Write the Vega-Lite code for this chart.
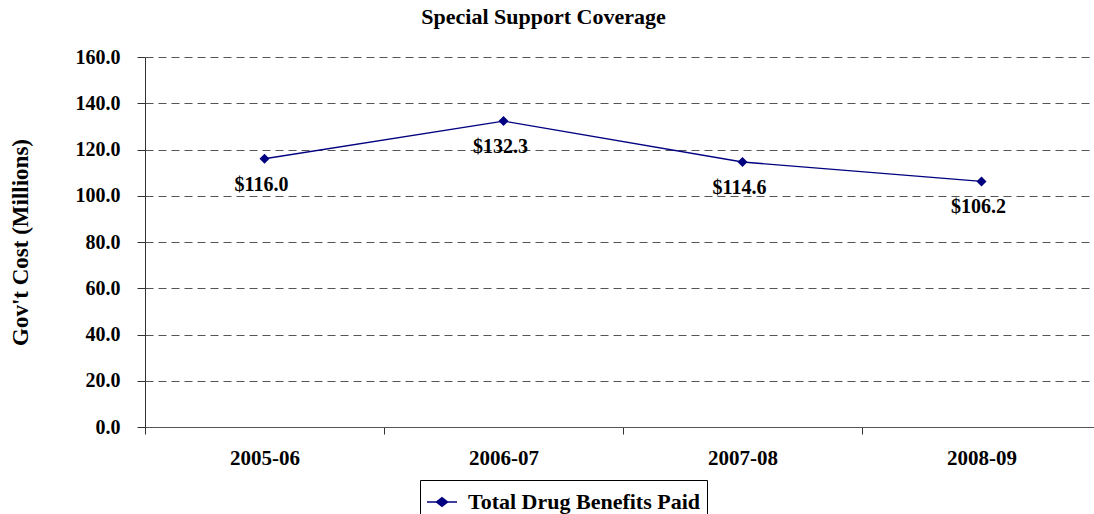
{
  "$schema": "https://vega.github.io/schema/vega-lite/v6.json",
  "autosize": {"type": "none"},
  "width": 949,
  "height": 370,
  "padding": {"left": 145, "top": 57, "right": 0, "bottom": 87},
  "background": "white",
  "title": {
    "text": "Special Support Coverage",
    "font": "Liberation Serif",
    "fontSize": 22,
    "fontWeight": "bold",
    "color": "black",
    "anchor": "middle",
    "dx": -76,
    "offset": 18
  },
  "data": {
    "values": [
      {"year": "2005-06", "cost": 116.0, "label": "$116.0", "series": "Total Drug Benefits Paid"},
      {"year": "2006-07", "cost": 132.3, "label": "$132.3", "series": "Total Drug Benefits Paid"},
      {"year": "2007-08", "cost": 114.6, "label": "$114.6", "series": "Total Drug Benefits Paid"},
      {"year": "2008-09", "cost": 106.2, "label": "$106.2", "series": "Total Drug Benefits Paid"}
    ]
  },
  "config": {
    "view": {"stroke": null},
    "axis": {
      "labelFont": "Liberation Serif",
      "labelFontWeight": "bold",
      "labelColor": "black",
      "titleFont": "Liberation Serif",
      "titleFontWeight": "bold",
      "titleColor": "black",
      "domainColor": "#333",
      "tickColor": "#333"
    }
  },
  "encoding": {
    "x": {
      "field": "year",
      "type": "nominal",
      "scale": {"type": "band", "paddingInner": 0, "paddingOuter": 0, "range": [0, 956]},
      "axis": {
        "title": null,
        "labelAngle": 0,
        "labelFontSize": 21,
        "labelPadding": 13,
        "tickSize": 7,
        "tickBand": "extent",
        "grid": false,
        "domainColor": "#555"
      }
    },
    "y": {
      "field": "cost",
      "type": "quantitative",
      "scale": {"domain": [0, 160], "nice": false},
      "axis": {
        "title": "Gov't Cost (Millions)",
        "titleFontSize": 23,
        "titlePadding": 43,
        "format": ".1f",
        "values": [0, 20, 40, 60, 80, 100, 120, 140, 160],
        "labelFontSize": 20,
        "labelPadding": 17,
        "tickSize": 8,
        "grid": true,
        "gridColor": "#555",
        "gridDash": [8, 5],
        "gridWidth": 1
      }
    }
  },
  "layer": [
    {
      "mark": {"type": "line", "color": "#000080", "strokeWidth": 1.3},
      "encoding": {
        "color": {
          "field": "series",
          "type": "nominal",
          "scale": {"range": ["#000080"]},
          "legend": {
            "title": null,
            "orient": "none",
            "legendX": 275,
            "legendY": 423,
            "symbolType": "M-1,0H1M-0.38,0L0,-0.3L0.38,0L0,0.3Z",
            "symbolSize": 900,
            "symbolStrokeWidth": 1.3,
            "symbolFillColor": "#000080",
            "symbolStrokeColor": "#000080",
            "labelFont": "Liberation Serif",
            "labelFontWeight": "bold",
            "labelFontSize": 22,
            "labelColor": "black",
            "labelLimit": 0,
            "strokeColor": "black",
            "padding": 6,
            "labelOffset": 10
          }
        }
      }
    },
    {
      "mark": {"type": "point", "shape": "diamond", "filled": true, "size": 100, "color": "#000080", "opacity": 1}
    },
    {
      "mark": {"type": "text", "font": "Liberation Serif", "fontWeight": "bold", "fontSize": 20, "dy": 26, "dx": -3, "color": "black"},
      "encoding": {"text": {"field": "label"}}
    }
  ]
}
